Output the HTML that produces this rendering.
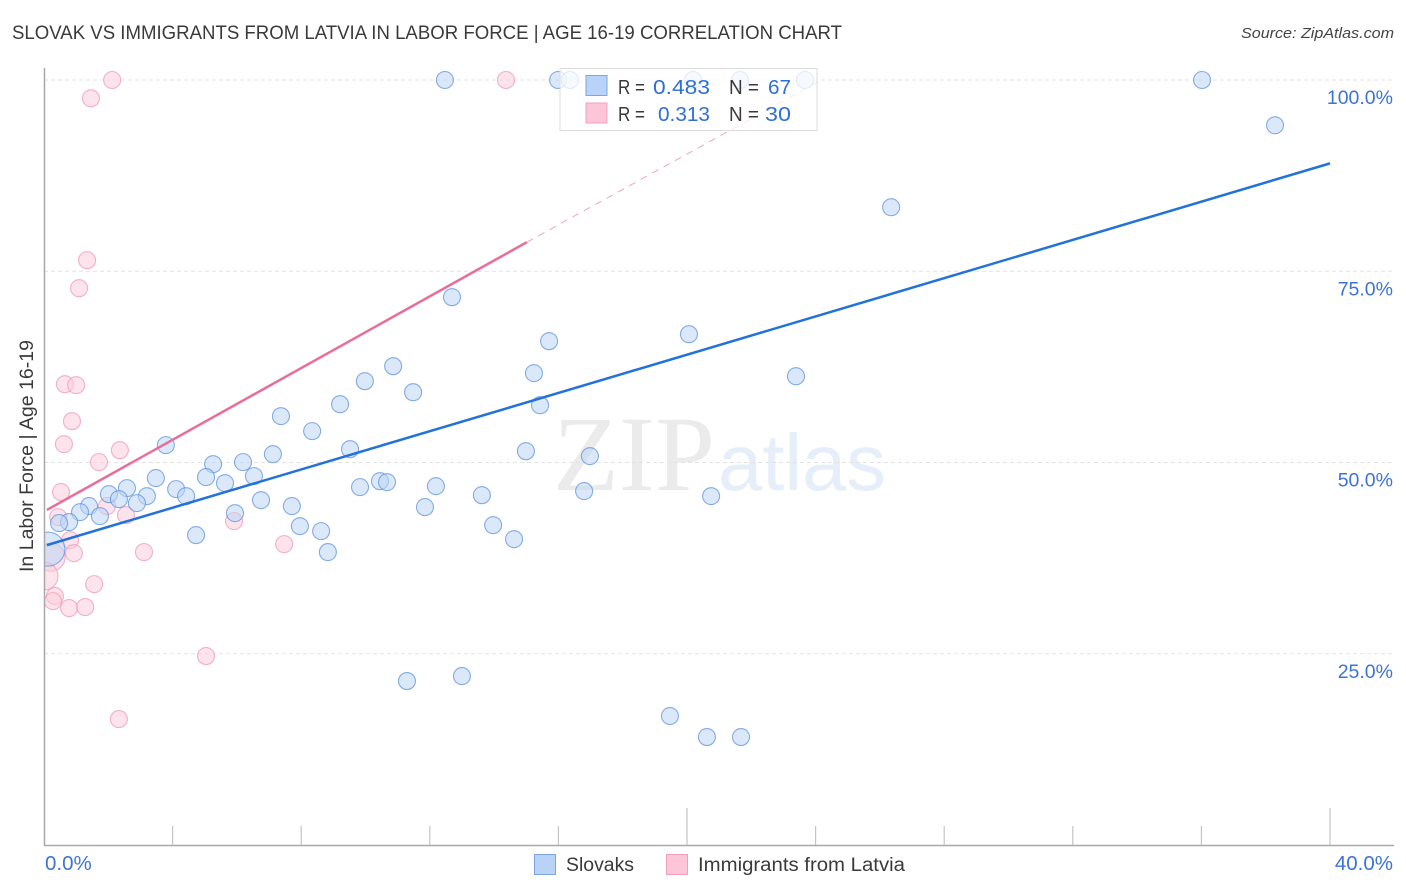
<!DOCTYPE html>
<html lang="en">
<head>
<meta charset="utf-8">
<title>Slovak vs Immigrants from Latvia in Labor Force | Age 16-19 Correlation Chart</title>
<style>
html,body{margin:0;padding:0;background:#fff;width:1406px;height:892px;overflow:hidden}
svg{display:block;font-family:"Liberation Sans",Arial,sans-serif}
</style>
</head>
<body>
<svg id="chart" xmlns="http://www.w3.org/2000/svg" width="1406" height="892" viewBox="0 0 1406 892">
<defs><clipPath id="plot-clip"><rect x="44.5" y="0" width="1361" height="845"/></clipPath></defs>
<text x="12" y="39" font-size="19" fill="#3a3a3a" textLength="830" lengthAdjust="spacingAndGlyphs">SLOVAK VS IMMIGRANTS FROM LATVIA IN LABOR FORCE | AGE 16-19 CORRELATION CHART</text>
<text x="1241" y="38" font-size="15" font-style="italic" fill="#444" textLength="153" lengthAdjust="spacingAndGlyphs">Source: ZipAtlas.com</text>
<text x="553" y="490" font-size="107" fill="#ebebeb" textLength="162" lengthAdjust="spacingAndGlyphs" style="font-family:'Liberation Serif',serif">ZIP</text>
<text x="718" y="490" font-size="80" fill="#e6eefa" textLength="168" lengthAdjust="spacingAndGlyphs">atlas</text>
<g id="grid"></g>
<g id="points-pink" clip-path="url(#plot-clip)"></g>
<g id="points-blue" clip-path="url(#plot-clip)"></g>
<g id="lines"></g>
<g id="axes"></g>
<text transform="translate(33,572) rotate(-90)" font-size="19" fill="#3a3a3a" textLength="232" lengthAdjust="spacingAndGlyphs">In Labor Force | Age 16-19</text>
<g>
<rect x="560" y="68.5" width="257" height="62" fill="#fff" fill-opacity="0.75" stroke="#dcdcdc" stroke-width="1"/>
<rect x="586" y="75.5" width="21" height="20" fill="#b8d3f7" stroke="#7ba6e4"/>
<rect x="586" y="103" width="21" height="20" fill="#fcc6d8" stroke="#f0a0bb"/>
<g font-size="20">
<text x="618" y="94" fill="#3a3a3a" textLength="27" lengthAdjust="spacingAndGlyphs">R =</text>
<text x="653" y="94" fill="#2f6fd6" textLength="57" lengthAdjust="spacingAndGlyphs">0.483</text>
<text x="729" y="94" fill="#3a3a3a" textLength="30" lengthAdjust="spacingAndGlyphs">N =</text>
<text x="768" y="94" fill="#2f6fd6" textLength="23" lengthAdjust="spacingAndGlyphs">67</text>
<text x="618" y="121" fill="#3a3a3a" textLength="27" lengthAdjust="spacingAndGlyphs">R =</text>
<text x="658" y="121" fill="#2f6fd6" textLength="52" lengthAdjust="spacingAndGlyphs">0.313</text>
<text x="729" y="121" fill="#3a3a3a" textLength="30" lengthAdjust="spacingAndGlyphs">N =</text>
<text x="765" y="121" fill="#2f6fd6" textLength="26" lengthAdjust="spacingAndGlyphs">30</text>
</g>
</g>
<g>
<rect x="534.5" y="854.5" width="21" height="20" fill="#b8d3f7" stroke="#7ba6e4"/>
<text x="566" y="871" font-size="19" fill="#3a3a3a" textLength="68" lengthAdjust="spacingAndGlyphs">Slovaks</text>
<rect x="666.5" y="854.5" width="21" height="20" fill="#fcc6d8" stroke="#f0a0bb"/>
<text x="698" y="871" font-size="19" fill="#3a3a3a" textLength="207" lengthAdjust="spacingAndGlyphs">Immigrants from Latvia</text>
</g>
</svg>
<script>
const slovaksX = [12.47,15.99,16.36,20.19,21.65,23.67,36.02,38.29,26.35,12.69,15.71,20.06,23.39,10.86,9.98,11.48,15.24,15.43,9.21,7.37,8.34,3.79,9.52,14.99,16.98,7.12,5.26,6.19,6.53,3.48,5.04,5.63,4.11,4.42,3.20,2.58,2.02,2.33,2.89,1.40,1.12,1.74,0.78,0.47,6.75,7.71,5.94,4.73,7.96,8.62,8.83,9.83,10.45,10.67,12.19,11.85,13.62,16.80,20.75,13.97,14.62,11.29,13.00,19.47,20.62,21.68];
const slovaksY = [100,100,100,100,100,100,100,94.08,83.37,71.61,65.86,66.77,61.28,62.59,60.63,59.19,61.68,57.49,57.62,56.06,54.10,52.27,51.74,51.48,50.83,51.09,49.78,50.05,48.22,47.96,48.09,47.30,46.52,45.60,45.60,46.65,45.86,45.21,44.69,44.30,43.51,42.99,42.21,42.08,45.08,44.30,43.38,40.51,41.68,41.03,38.29,46.78,47.56,47.43,46.91,44.17,45.73,46.26,45.60,41.81,39.98,21.43,22.08,16.86,14.11,14.11];
const slovaksLargeX = [0.12];
const slovaksLargeY = [38.68];
const latviaX = [2.12,14.37,1.46,1.34,1.09,0.65,1.00,0.87,0.62,1.71,2.36,0.53,0.44,1.96,2.55,0.81,0.93,3.11,5.91,7.47,1.56,0.34,0.28,0.78,1.28,5.04,2.33];
const latviaY = [100,100,97.61,76.44,72.78,60.24,60.11,55.40,52.40,50.05,51.61,46.13,42.86,44.30,43.12,39.85,38.15,38.29,42.34,39.33,34.10,32.54,31.88,30.97,31.10,24.70,16.46];
const latviaLargeX = [0.22,0];
const latviaLargeY = [37.63,35.15];
const slovaksTrendX = [0.09,40];
const slovaksTrendY = [39.2,89.1];
const latviaTrendX = [0.09,15.02];
const latviaTrendY = [43.8,78.8];
const latviaTrendExtendedX = [15.02,24.14];
const latviaTrendExtendedY = [78.8,99.9];
const xTickValues = [0,4,8,12,16,20,24,28,32,36,40];
const xLabelValues = [0,40];
const yTickValues = [25,50,75,100];
const xMin = 0, xMax = 40, yMin = 0, yMax = 100;
const NS = 'http://www.w3.org/2000/svg';
function sx(v){ return 44 + (v - xMin) / (xMax - xMin) * 1286; }
function sy(v){ return 845 - (v - yMin) / (yMax - yMin) * 765; }
function mk(tag, parent, attrs){
  const el = document.createElementNS(NS, tag);
  for (const k in attrs) el.setAttribute(k, attrs[k]);
  parent.appendChild(el);
  return el;
}
const grid = document.getElementById('grid');
const axes = document.getElementById('axes');
const lines = document.getElementById('lines');
const blue = document.getElementById('points-blue');
const pink = document.getElementById('points-pink');
yTickValues.forEach(function(t){
  const g = mk('line', grid, {x1:44, x2:1393, y1:sy(t), y2:sy(t), stroke:'#e2e2e2', 'stroke-width':1, 'stroke-dasharray':'4 3'});
  
  
  const lab = mk('text', axes, {x:1393, y:sy(t) + 24, 'font-size':19.5, fill:'#3d74d4', 'text-anchor':'end'});
  lab.textContent = t.toFixed(1) + '%';
  
  
});
function drawPoints(parent, xs, ys, r, fill, stroke, name){
  xs.forEach(function(x, i){
    const c = mk('circle', parent, {cx:sx(x), cy:sy(ys[i]), r:r, fill:fill, 'fill-opacity':0.55, stroke:stroke, 'stroke-width':1.1, 'stroke-opacity':0.75});
    
    
  });
}
drawPoints(pink, latviaX, latviaY, 8.5, '#fbcedc', '#ef98b5', 'latvia-point');
drawPoints(pink, latviaLargeX, latviaLargeY, 14, '#fbcedc', '#ef98b5', 'latvia-point-large');
drawPoints(blue, slovaksX, slovaksY, 8.5, '#bcd5f6', '#5f93de', 'slovaks-point');
drawPoints(blue, slovaksLargeX, slovaksLargeY, 17, '#bcd5f6', '#5f93de', 'slovaks-point-large');
const blueLine = mk('line', lines, {x1:sx(slovaksTrendX[0]), y1:sy(slovaksTrendY[0]), x2:sx(slovaksTrendX[1]), y2:sy(slovaksTrendY[1]), stroke:'#2272d9', 'stroke-width':2.5});


const pinkLine = mk('line', lines, {x1:sx(latviaTrendX[0]), y1:sy(latviaTrendY[0]), x2:sx(latviaTrendX[1]), y2:sy(latviaTrendY[1]), stroke:'#ea6c9b', 'stroke-width':2.5});


const pinkDash = mk('line', lines, {x1:sx(latviaTrendExtendedX[0]), y1:sy(latviaTrendExtendedY[0]), x2:sx(latviaTrendExtendedX[1]), y2:sy(latviaTrendExtendedY[1]), stroke:'#efa3bf', 'stroke-width':1, 'stroke-dasharray':'7 6'});


const yAxis = mk('line', axes, {x1:44.5, x2:44.5, y1:68, y2:846, stroke:'#a8a8a8', 'stroke-width':1.5});


const xAxis = mk('line', axes, {x1:44, x2:1394, y1:845.5, y2:845.5, stroke:'#a8a8a8', 'stroke-width':1.5});


xTickValues.forEach(function(t){
  if (t === xMin) return;
  const major = (t === 20 || t === 40);
  const tick = mk('line', axes, {x1:sx(t), x2:sx(t), y1:major ? 808 : 826, y2:845, stroke:'#c4c4c4', 'stroke-width':1.2});
  
  
});
xLabelValues.forEach(function(t){
  const isFirst = t === xMin;
  const lab = mk('text', axes, {x:isFirst ? 45 : 1393, y:870, 'font-size':20.5, fill:'#3d74d4', 'text-anchor':isFirst ? 'start' : 'end'});
  lab.textContent = t.toFixed(1) + '%';
  
  
});
</script>
</body>
</html>
